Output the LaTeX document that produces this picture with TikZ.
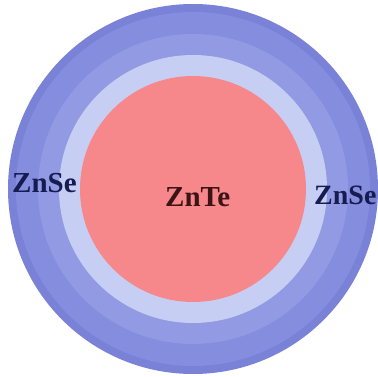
\documentclass[tikz,border=0pt]{standalone}
\usepackage{fontspec}
\setmainfont{Liberation Serif}
\usepackage{tikz}

\definecolor{shellouter}{HTML}{7A82D8}
\definecolor{shellmid}{HTML}{858DDE}
\definecolor{shellinner}{HTML}{929AE3}
\definecolor{shellpale}{HTML}{C6CEF3}
\definecolor{corered}{HTML}{F6878A}
\definecolor{senavy}{HTML}{161B50}
\definecolor{tebrown}{HTML}{3C1416}

\begin{document}
\begin{tikzpicture}[x=1pt,y=-1pt,
    layer/.style={draw=none},
    label/.style={inner sep=0pt,anchor=base west,font=\fontsize{29}{30}\selectfont\bfseries}]

% Frame of the picture
\fill[white] (0,0) rectangle (378,377);
\clip (0,0) rectangle (378,377);

% Concentric shells around the core
\coordinate (c) at (193,189);
\fill[layer,shellouter] (c) circle (185);
\fill[layer,shellmid] (c) circle (177);
\fill[layer,shellinner] (c) circle (155);
\fill[layer,shellpale] (c) circle (134);
\fill[layer,corered] (c) circle (113);

% Labels
\node[label,text=senavy] (seleft) at (12,193) {ZnSe};
\node[label,text=tebrown] (te) at (165,207) {ZnTe};
\node[label,text=senavy,font=\fontsize{28}{30}\selectfont\bfseries] (seright) at (314,205) {ZnSe};

\end{tikzpicture}
\end{document}
